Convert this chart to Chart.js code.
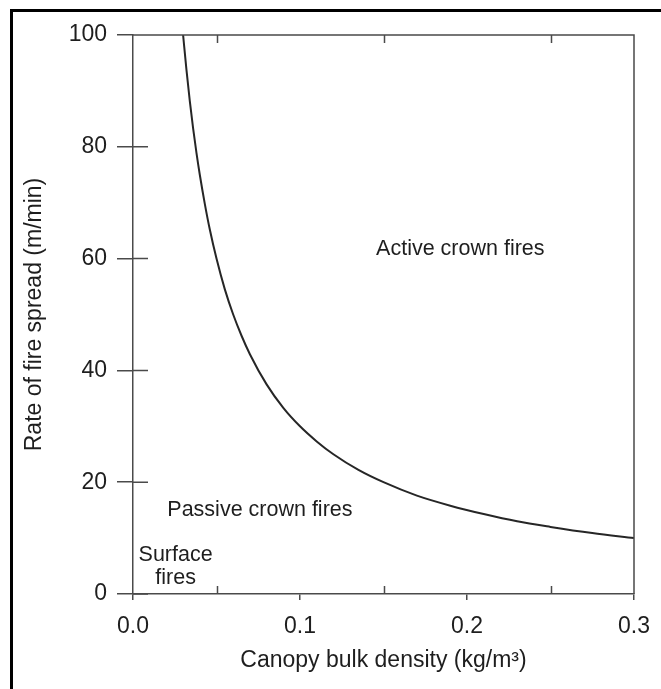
<!DOCTYPE html>
<html>
<head>
<meta charset="utf-8">
<script src="https://cdn.jsdelivr.net/npm/chart.js@4/dist/chart.umd.min.js"></script>
<style>
  html, body { margin: 0; padding: 0; background: #ffffff; }
  #plot { display: block; }
</style>
</head>
<body>
<canvas id="plot" width="661" height="689"></canvas>
<script>
// canopy bulk density (kg/m3) vs. critical rate of spread (m/min)
const cbd = [0.030, 0.032, 0.034, 0.036, 0.038, 0.040, 0.043, 0.046, 0.050, 0.055, 0.060, 0.065, 0.070,
             0.080, 0.090, 0.100, 0.110, 0.120, 0.135, 0.150, 0.170, 0.190, 0.210, 0.230, 0.250, 0.275, 0.300]
const ros = [100, 93.8, 88.2, 83.3, 78.9, 75.0, 69.8, 65.2, 60.0, 54.5, 50.0, 46.2, 42.9,
             37.5, 33.3, 30.0, 27.3, 25.0, 22.2, 20.0, 17.6, 15.8, 14.3, 13.0, 12.0, 10.9, 10.0]

const xTicks = [0.0, 0.1, 0.2, 0.3]
const xMinor = [0.05, 0.15, 0.25]
const yTicks = [0, 20, 40, 60, 80, 100]

const regionLabels = ["Active crown fires", "Passive crown fires", ["Surface", "fires"]]

const axisColor = '#4a4a4a'
const textColor = '#1e1e1e'
const fontFamily = '"Liberation Sans", Arial, sans-serif'

const points = cbd.map((v, i) => ({x: v, y: ros[i]}))

const extras = {
  id: 'extras',
  afterDraw: (chart) => {
    const {ctx, chartArea: a, scales: {x, y}} = chart
    ctx.save()
    ctx.strokeStyle = axisColor
    ctx.lineWidth = 1.5
    ctx.beginPath()
    // top and right edges of the box
    ctx.moveTo(a.left, a.top)
    ctx.lineTo(a.right, a.top)
    ctx.lineTo(a.right, a.bottom)
    // minor ticks pointing inward, bottom and top
    xMinor.forEach(v => {
      const px = Math.round(x.getPixelForValue(v)) + 0.5
      ctx.moveTo(px, a.bottom)
      ctx.lineTo(px, a.bottom - 8)
      ctx.moveTo(px, a.top)
      ctx.lineTo(px, a.top + 8)
    })
    // inner half of the y ticks
    yTicks.forEach(v => {
      const py = y.getPixelForValue(v)
      ctx.moveTo(a.left, py)
      ctx.lineTo(a.left + 15, py)
    })
    ctx.stroke()

    // region names
    ctx.fillStyle = textColor
    ctx.font = '21.5px ' + fontFamily
    ctx.textAlign = 'center'
    ctx.textBaseline = 'middle'
    ctx.fillText(regionLabels[0], x.getPixelForValue(0.196), y.getPixelForValue(61.7))
    ctx.fillText(regionLabels[1], x.getPixelForValue(0.076), y.getPixelForValue(15.0))
    ctx.fillText(regionLabels[2][0], x.getPixelForValue(0.0255), y.getPixelForValue(7.0))
    ctx.fillText(regionLabels[2][1], x.getPixelForValue(0.0255), y.getPixelForValue(2.9))

    // outer frame
    ctx.strokeStyle = '#000000'
    ctx.lineWidth = 3
    ctx.strokeRect(11.5, 10.5, 700, 700)
    ctx.restore()
  }
}

new Chart('plot', {
  type: 'line',
  data: {
    datasets: [{
      data: points,
      borderColor: '#262626',
      borderWidth: 2,
      pointRadius: 0,
      fill: false,
      cubicInterpolationMode: 'monotone'
    }]
  },
  options: {
    responsive: false,
    animation: false,
    layout: {padding: {left: 0, top: 35, right: 27, bottom: 0}},
    plugins: {
      legend: {display: false},
      tooltip: {enabled: false}
    },
    scales: {
      x: {
        type: 'linear',
        position: 'bottom',
        min: 0,
        max: 0.3,
        afterBuildTicks: (scale) => { scale.ticks = xTicks.map(v => ({value: v})) },
        afterFit: (scale) => {
          scale.height = 95
          scale.paddingLeft = 0
          scale.paddingRight = 0
        },
        ticks: {
          color: textColor,
          padding: 13,
          font: {family: fontFamily, size: 23},
          callback: (v) => v.toFixed(1)
        },
        grid: {drawOnChartArea: false, tickLength: 6, tickColor: axisColor, lineWidth: 1.5},
        border: {display: true, color: axisColor, width: 1.5},
        title: {
          display: true,
          text: 'Canopy bulk density (kg/m³)',
          color: textColor,
          font: {family: fontFamily, size: 23},
          padding: {top: 0, bottom: 15}
        }
      },
      y: {
        min: 0,
        max: 100,
        afterBuildTicks: (scale) => { scale.ticks = yTicks.map(v => ({value: v})) },
        afterFit: (scale) => {
          scale.width = 133
          scale.paddingTop = 0
          scale.paddingBottom = 0
        },
        ticks: {
          color: textColor,
          padding: 10,
          font: {family: fontFamily, size: 23}
        },
        grid: {drawOnChartArea: false, tickLength: 16, tickColor: axisColor, lineWidth: 1.5},
        border: {display: true, color: axisColor, width: 1.5},
        title: {
          display: true,
          text: 'Rate of fire spread (m/min)',
          color: textColor,
          font: {family: fontFamily, size: 23},
          padding: {top: 21, bottom: 0}
        }
      }
    }
  },
  plugins: [extras]
})
</script>
</body>
</html>
